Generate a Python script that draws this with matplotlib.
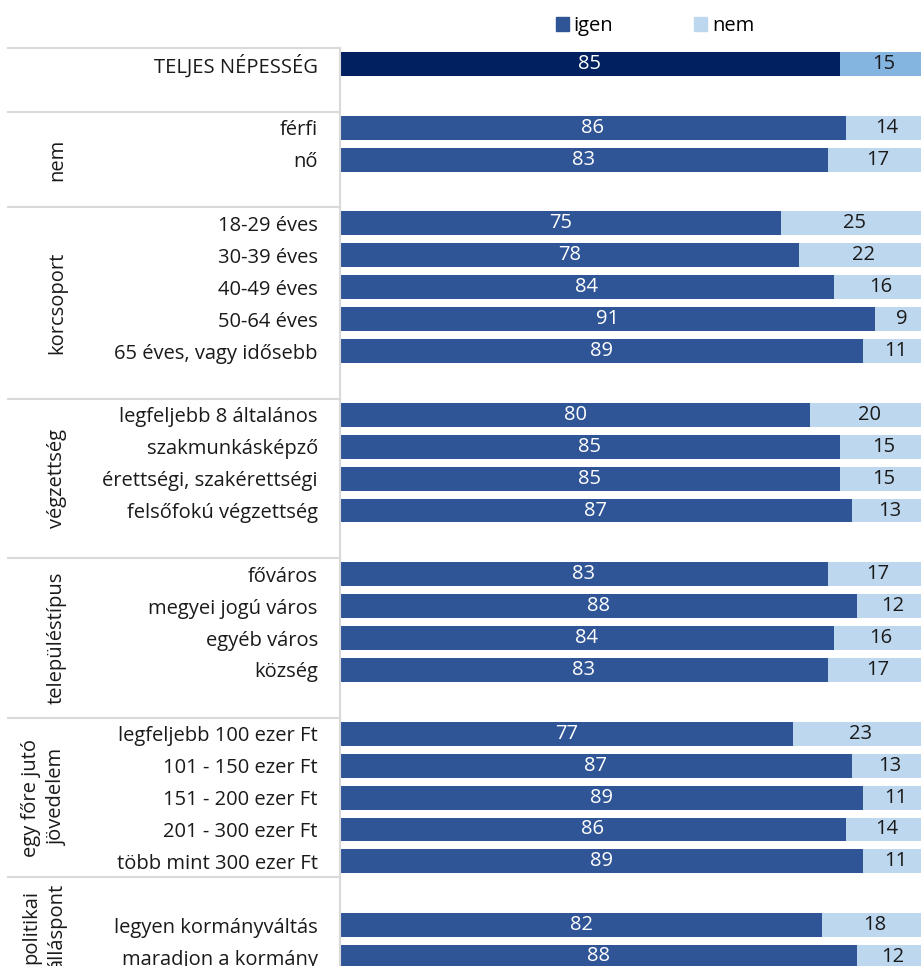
import matplotlib
matplotlib.use("Agg")
import matplotlib.pyplot as plt
import matplotlib.transforms as mtransforms
from matplotlib.patches import Patch

plt.rcParams['font.family'] = ['Open Sans', 'DejaVu Sans']

# sorok (üres sor = csoportok közti hézag)
rows = ["TELJES NÉPESSÉG", "",
        "férfi", "nő", "",
        "18-29 éves", "30-39 éves", "40-49 éves", "50-64 éves", "65 éves, vagy idősebb", "",
        "legfeljebb 8 általános", "szakmunkásképző", "érettségi, szakérettségi", "felsőfokú végzettség", "",
        "főváros", "megyei jogú város", "egyéb város", "község", "",
        "legfeljebb 100 ezer Ft", "101 - 150 ezer Ft", "151 - 200 ezer Ft", "201 - 300 ezer Ft",
        "több mint 300 ezer Ft", "",
        "legyen kormányváltás", "maradjon a kormány"]
igen = [85, None, 86, 83, None, 75, 78, 84, 91, 89, None, 80, 85, 85, 87, None,
        83, 88, 84, 83, None, 77, 87, 89, 86, 89, None, 82, 88]
nem = [15, None, 14, 17, None, 25, 22, 16, 9, 11, None, 20, 15, 15, 13, None,
       17, 12, 16, 17, None, 23, 13, 11, 14, 11, None, 18, 12]

groups = ["nem", "korcsoport", "végzettség", "településtípus",
          "egy főre jutó\njövedelem", "politikai\nálláspont"]
group_bounds = [(1.5, 4.5), (4.5, 10.5), (10.5, 15.5), (15.5, 20.5), (20.5, 25.5), (25.5, 28.6)]

c_igen, c_nem = "#2F5597", "#BDD7EE"
c_igen_tot, c_nem_tot = "#002060", "#84B4E0"
FS = 14.5

fig = plt.figure(figsize=(9.21, 9.66), dpi=100)
ax = fig.add_axes([340 / 921, 0, 581 / 921, (966 - 48) / 966])

idx = [i for i, v in enumerate(igen) if v is not None]
yv = [igen[i] for i in idx]
nv = [nem[i] for i in idx]
ci = [c_igen_tot if i == 0 else c_igen for i in idx]
cn = [c_nem_tot if i == 0 else c_nem for i in idx]

b1 = ax.barh(idx, yv, height=0.75, color=ci)
b2 = ax.barh(idx, nv, left=yv, height=0.75, color=cn)
ax.bar_label(b1, labels=[str(v) for v in yv], label_type='center', color='white', fontsize=FS)
# nem címkék a 0-100 szegmens közepére
for i, a, b in zip(idx, yv, nv):
    ax.text(a + b / 2, i, str(b), ha='center', va='center', color='#1a1a1a', fontsize=FS)

ax.set_xlim(0, 98.8)
ax.set_ylim(28.28, -0.5)
ax.set_yticks(idx)
ax.set_yticklabels([rows[i] for i in idx], fontsize=FS, color='#1a1a1a')
ax.tick_params(axis='y', length=0, pad=16)
ax.set_xticks([])
for s in ['top', 'right', 'bottom']:
    ax.spines[s].set_visible(False)
ax.spines['left'].set_color('#D9D9D9')
ax.spines['left'].set_linewidth(1.5)

trans = mtransforms.blended_transform_factory(ax.transAxes, ax.transData)
x0 = (8 - 340) / 581
for yb in [-0.5, 1.5, 4.5, 10.5, 15.5, 20.5, 25.5]:
    ax.plot([x0, 0], [yb, yb], transform=trans, color='#D9D9D9', lw=1.5, clip_on=False)

for g, (a, b) in zip(groups, group_bounds):
    xg = (57 - 340) / 581 if "\n" not in g else (44 - 340) / 581
    ax.text(xg, (a + b) / 2, g, transform=trans, rotation=90, ha='center', va='center',
            fontsize=FS, color='#1a1a1a', linespacing=1.35, clip_on=False)

handles = [Patch(color=c_igen, label='igen'), Patch(color=c_nem, label='nem')]
fig.legend(handles=handles, loc='center', bbox_to_anchor=(655 / 921, 1 - 26 / 966), ncol=2,
           frameon=False, fontsize=FS, handlelength=0.65, handleheight=0.65, handletextpad=0.25,
           columnspacing=4.0)

fig.savefig("out.png", dpi=100)
